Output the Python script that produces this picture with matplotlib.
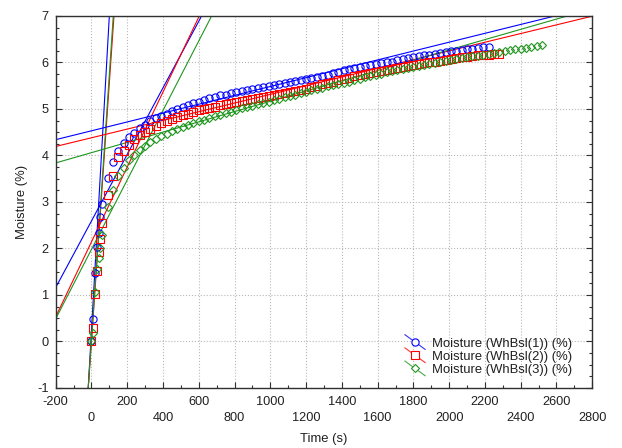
import matplotlib
matplotlib.use("Agg")
import matplotlib.pyplot as plt
from matplotlib.lines import Line2D
from matplotlib.legend_handler import HandlerBase

plt.rcParams['font.family'] = ['Liberation Sans', 'DejaVu Sans']
plt.rcParams['axes.unicode_minus'] = False

# ---------------- data ----------------
time_s = [0, 10, 20, 30, 40, 50, 60, 90, 120, 150, 180, 210, 240, 270, 300, 330, 360,
          390, 420, 450, 480, 510, 540, 570, 600, 630, 660, 690, 720, 750, 780, 810, 840,
          870, 900, 930, 960, 990, 1020, 1050, 1080, 1110, 1140, 1170, 1200, 1230, 1260,
          1290, 1320, 1350, 1380, 1410, 1440, 1470, 1500, 1530, 1560, 1590, 1620, 1650,
          1680, 1710, 1740, 1770, 1800, 1830, 1860, 1890, 1920, 1950, 1980, 2010, 2040,
          2070, 2100, 2130, 2160, 2190, 2220, 2250, 2280, 2310, 2340, 2370, 2400, 2430,
          2460, 2490, 2520]

moisture_1 = [0.00, 0.49, 1.47, 2.03, 2.34, 2.67, 2.96,
              3.51, 3.86, 4.09, 4.27, 4.39, 4.49, 4.58, 4.66, 4.74, 4.80,
              4.85, 4.90, 4.95, 5.00, 5.04, 5.08, 5.12, 5.16, 5.20, 5.23,
              5.26, 5.29, 5.31, 5.34, 5.36, 5.39, 5.41, 5.43, 5.45, 5.48,
              5.50, 5.52, 5.54, 5.56, 5.58, 5.60, 5.62, 5.64, 5.66, 5.69,
              5.71, 5.74, 5.77, 5.80, 5.83, 5.85, 5.87, 5.90, 5.92, 5.94,
              5.96, 5.98, 6.00, 6.02, 6.05, 6.07, 6.09, 6.11, 6.13, 6.15,
              6.17, 6.18, 6.20, 6.22, 6.24, 6.25, 6.27, 6.28, 6.30, 6.31,
              6.33, 6.34]

moisture_2 = [0.00, 0.30, 1.03, 1.51, 1.92, 2.21, 2.54,
              3.14, 3.56, 3.96, 4.09, 4.23, 4.35, 4.43, 4.50, 4.57, 4.63,
              4.69, 4.74, 4.78, 4.82, 4.86, 4.90, 4.93, 4.97, 5.00, 5.03,
              5.05, 5.08, 5.11, 5.13, 5.16, 5.18, 5.20, 5.22, 5.24, 5.26,
              5.28, 5.30, 5.32, 5.34, 5.36, 5.38, 5.40, 5.43, 5.47, 5.50,
              5.53, 5.56, 5.59, 5.62, 5.65, 5.67, 5.70, 5.72, 5.75, 5.77,
              5.79, 5.81, 5.84, 5.86, 5.88, 5.90, 5.92, 5.94, 5.96, 5.98,
              6.00, 6.02, 6.04, 6.05, 6.07, 6.09, 6.11, 6.12, 6.14, 6.15,
              6.16, 6.17, 6.18, 6.19]

moisture_3 = [0.00, 0.18, 1.06, 1.56, 1.80, 2.00, 2.28,
              2.90, 3.26, 3.56, 3.74, 3.90, 4.01, 4.12, 4.21, 4.29, 4.36,
              4.42, 4.47, 4.52, 4.57, 4.62, 4.66, 4.70, 4.74, 4.77, 4.81,
              4.84, 4.88, 4.91, 4.94, 4.98, 5.01, 5.04, 5.07, 5.10, 5.13,
              5.16, 5.19, 5.22, 5.25, 5.28, 5.31, 5.34, 5.37, 5.40, 5.43,
              5.46, 5.49, 5.51, 5.54, 5.56, 5.59, 5.62, 5.65, 5.68, 5.71,
              5.74, 5.76, 5.79, 5.81, 5.84, 5.86, 5.88, 5.90, 5.92, 5.95,
              5.97, 5.99, 6.01, 6.03, 6.05, 6.07, 6.09, 6.11, 6.13, 6.14,
              6.16, 6.18, 6.20, 6.22, 6.24, 6.26, 6.28, 6.30, 6.32, 6.34,
              6.36, 6.38]

series_labels = ["Moisture (WhBsl(1)) (%)", "Moisture (WhBsl(2)) (%)", "Moisture (WhBsl(3)) (%)"]

# fitted straight lines (slope, intercept) per series
fit_initial = [(0.0678, 0.22), (0.0556, 0.00), (0.0571, 0.03)]
fit_middle = [(0.00716, 2.59), (0.00806, 2.14), (0.00747, 1.98)]
fit_late = [(0.000953, 4.53), (0.000934, 4.38), (0.001105, 4.06)]

x_ticks = [-200, 0, 200, 400, 600, 800, 1000, 1200, 1400, 1600, 1800, 2000, 2200, 2400, 2600, 2800]
y_ticks = [-1, 0, 1, 2, 3, 4, 5, 6, 7]

# ---------------- style ----------------
colors = ['#0000ff', '#ff0000', '#1e961e']
markers = ['o', 's', 'D']
msizes = [5.2, 5.2, 4.1]

fig = plt.figure(figsize=(6.22, 4.48), dpi=100)
ax = fig.add_axes([0.0895, 0.134, 0.8627, 0.8304])

for (m, b), c in zip(fit_initial, colors):
    ax.axline((0, b), slope=m, color=c, lw=0.8, zorder=2)
for (m, b), c in zip(fit_middle, colors):
    ax.axline((0, b), slope=m, color=c, lw=0.8, zorder=2)
for (m, b), c in zip(fit_late, colors):
    ax.axline((0, b), slope=m, color=c, lw=0.8, zorder=2)

handles = []
for vals, c, mk, ms, lab in zip([moisture_1, moisture_2, moisture_3], colors, markers, msizes, series_labels):
    h, = ax.plot(time_s[:len(vals)], vals, linestyle='none', marker=mk, ms=ms,
                 mfc='none', mec=c, mew=0.8, zorder=3, label=lab)
    handles.append(h)

ax.set_xlim(-200, 2800)
ax.set_ylim(-1, 7)

ax.set_xticks(x_ticks)
ax.set_xticklabels([("" if i % 2 == 0 else "\n") + str(v) for i, v in enumerate(x_ticks)])
for lbl in ax.get_xticklabels():
    lbl.set_linespacing(1.45)
ax.set_xticks([v + 100 for v in x_ticks[:-1]], minor=True)
ax.set_yticks(y_ticks)
ax.set_yticklabels([str(v) for v in y_ticks])
ax.set_yticks([v + q for v in y_ticks[:-1] for q in (0.25, 0.5, 0.75)], minor=True)

ax.tick_params(axis='both', which='both', direction='in', labelsize=9.2, colors='#303030',
               labelcolor='#202020')
ax.tick_params(axis='y', which='both', right=True, left=True)
ax.tick_params(axis='x', which='both', top=False, bottom=True)
ax.tick_params(axis='both', which='major', length=4, width=0.8)
ax.tick_params(axis='both', which='minor', length=2.5, width=0.8)
ax.tick_params(axis='x', which='major', pad=6)
ax.tick_params(axis='y', which='major', pad=5)

ax.grid(True, which='major', linestyle=':', color='#b8b8b8', lw=0.8)
ax.set_axisbelow(True)
for sp in ax.spines.values():
    sp.set_color('#303030')
    sp.set_linewidth(1.0)

ax.set_xlabel("Time (s)", fontsize=9.4, color='#202020', labelpad=6)
ax.set_ylabel("Moisture (%)", fontsize=9.4, color='#202020', labelpad=7)


class DiagHandler(HandlerBase):
    def create_artists(self, legend, orig_handle, xdescent, ydescent, width, height, fontsize, trans):
        c = orig_handle.get_markeredgecolor()
        x0, x1 = -xdescent, -xdescent + width
        y0, y1 = -ydescent - 2, -ydescent + height + 2
        line = Line2D([x0, x1], [y1, y0], color=c, lw=0.8, alpha=0.8)
        mark = Line2D([(x0 + x1) / 2], [(y0 + y1) / 2], marker=orig_handle.get_marker(),
                      ms=orig_handle.get_markersize(), mfc='white', mec=c, mew=0.8, ls='none')
        line.set_transform(trans)
        mark.set_transform(trans)
        return [line, mark]


leg = ax.legend(handles=handles, loc='upper left', bbox_to_anchor=(0.651, 0.2467),
                bbox_transform=fig.transFigure, frameon=False, fontsize=9.4,
                handler_map={h: DiagHandler() for h in handles},
                handlelength=1.55, handletextpad=0.5, labelspacing=0.08,
                borderpad=0, borderaxespad=0)
for t in leg.get_texts():
    t.set_color('#202020')

fig.savefig("out.png", dpi=100)
